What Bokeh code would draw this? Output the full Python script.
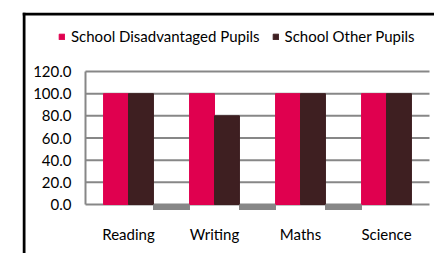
from bokeh.plotting import figure
from bokeh.models import (Range1d, FixedTicker, NumeralTickFormatter,
                          Legend, LegendItem, ColumnDataSource, Span)
from bokeh.embed import file_html
from bokeh.resources import INLINE

# ---- data ----
categories = ["Reading", "Writing", "Maths", "Science"]
disadvantaged = [100.0, 100.0, 100.0, 100.0]
other = [100.0, 80.0, 100.0, 100.0]
gap_series = [-5.0, -5.0, -5.0, 0.0]
y_ticks = [0, 20, 40, 60, 80, 100, 120]
series_names = ["School Disadvantaged Pupils", "School Other Pupils"]

# ---- style / layout ----
PINK = "#E0004F"
DARK = "#3E1F21"
GREY = "#878787"
FONT = "Lato"
W, H = 434, 253
BOX_L, BOX_T = 22, 12          # outer chart box (frame) corner, px
PLOT_L, PLOT_T = 85, 71        # plot area: x of first category, y of top tick
CAT_PX = 86                    # px per category
Y_PX = 133.0 / 120.0           # px per y unit
BAR_W = 0.29
GAP_W = 0.43

x_start = -(PLOT_L - BOX_L) / CAT_PX
x_end = (W - PLOT_L) / CAT_PX
y_end = max(y_ticks) + (PLOT_T - BOX_T) / Y_PX
y_start = max(y_ticks) - (H - PLOT_T) / Y_PX

n = len(categories)
idx = list(range(n))
src = ColumnDataSource(dict(
    x_dis=[i + 0.5 - BAR_W / 2 for i in idx],
    x_oth=[i + 0.5 + BAR_W / 2 for i in idx],
    x_gap=[i + 1.0 for i in idx],
    dis=disadvantaged, oth=other, gap=gap_series))

p = figure(x_range=Range1d(x_start, x_end), y_range=Range1d(y_start, y_end),
           width=W, height=H, output_backend="svg", toolbar_location=None,
           min_border_left=BOX_L, min_border_top=BOX_T,
           min_border_right=0, min_border_bottom=0)
p.outline_line_color = None
p.background_fill_color = "white"
p.border_fill_color = "white"
p.xgrid.visible = False
p.ygrid.visible = False

# gridlines across the category area
p.segment(x0=[0] * len(y_ticks), x1=[n] * len(y_ticks), y0=y_ticks, y1=y_ticks,
          line_color=GREY, line_width=2)

r1 = p.vbar(x="x_dis", top="dis", width=BAR_W, source=src, color=PINK)
r2 = p.vbar(x="x_oth", top="oth", width=BAR_W, source=src, color=DARK)
p.vbar(x="x_gap", top="gap", width=GAP_W, source=src,
       fill_color=GREY, line_color=None)

# outer chart border (top and left edges)
p.add_layout(Span(location=x_start + 1.5 / CAT_PX, dimension="height",
                  line_color="black", line_width=3))
p.add_layout(Span(location=y_end - 1.5 / Y_PX, dimension="width",
                  line_color="black", line_width=3))

# y axis
yax = p.yaxis[0]
yax.fixed_location = 0
yax.ticker = FixedTicker(ticks=y_ticks)
yax.formatter = NumeralTickFormatter(format="0.0")
yax.bounds = (0, max(y_ticks))
yax.axis_line_color = GREY
yax.axis_line_width = 2
yax.major_tick_line_color = None
yax.minor_tick_line_color = None
yax.major_tick_out = 0
yax.major_tick_in = 0
yax.major_label_standoff = 14
yax.major_label_text_font = FONT
yax.major_label_text_font_size = "15px"
yax.major_label_text_color = "black"

# x axis (category labels)
xax = p.xaxis[0]
xax.fixed_location = 0
xax.ticker = FixedTicker(ticks=[i + 0.5 for i in idx])
xax.major_label_overrides = {i + 0.5: c for i, c in zip(idx, categories)}
xax.axis_line_color = None
xax.major_tick_line_color = None
xax.minor_tick_line_color = None
xax.major_tick_out = 0
xax.major_tick_in = 0
xax.major_label_standoff = 20
xax.major_label_text_font = FONT
xax.major_label_text_font_size = "15px"
xax.major_label_text_color = "black"

legend = Legend(items=[LegendItem(label=series_names[0], renderers=[r1]),
                       LegendItem(label=series_names[1], renderers=[r2])],
                orientation="horizontal", location=(36, 208),
                glyph_width=7, glyph_height=7, label_standoff=6, spacing=12,
                padding=0, margin=0, border_line_color=None,
                background_fill_alpha=0,
                label_text_font=FONT, label_text_font_size="15px",
                label_text_color="black")
p.add_layout(legend, "center")

open("out.html", "w").write(file_html(p, INLINE))
